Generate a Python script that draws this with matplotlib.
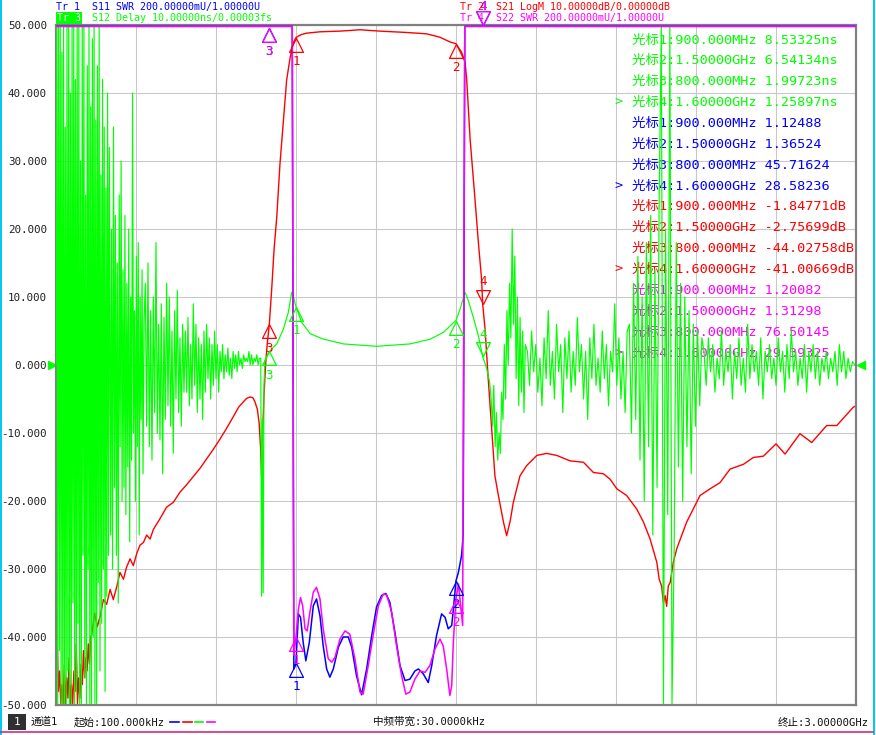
import numpy as np
import matplotlib
matplotlib.use("Agg")
import matplotlib.pyplot as plt
from matplotlib.lines import Line2D
from matplotlib.patches import Rectangle
from matplotlib.transforms import offset_copy

MONO = ["DejaVu Sans Mono", "Noto Sans CJK SC"]
BLUE, RED, GREEN, MAGENTA = "#0000ff", "#ff0000", "#00ff00", "#ff00ff"

F_START, F_STOP = 0.1, 3000.0  # MHz

# ---- S12 group delay (ns), in sweep segments ----
delay_l1 = [0, 58, -60, 60, -42, 57, -60, 46, -55, 60, -50, 35, -60, 58, -45, 60, -58, 40, -52, 60,
            -35, 50, -60, 42, -48, 55, -38, 60, -56, 30, -60, 52, -28, 60, -46, 25, -60, 44, -30, 60,
            -52, 38, -60, 48, -40, 55, -58, 36, -50, 44, -32, 50, -45, 28, -38, 42, -30, 35, -48, 26,
            -34, 40, -28, 32]
delay_l2 = [-25, 20, -30, 35, -18, 22, -28, 15, -35, 25, -12, 30, -20, 14, -18, 22, -22, 12, -15, 20,
            -26, 10, -14, 40, -10, 8, -20, 16, -12, 18, -25, 10, -8, 14, -16, 6]
delay_l3 = [12, -9, 15, -12, 8, -14, 10, -7, 18, -10, 6, -11, 9, -16, 7, -8, 12, -6, 10, -9,
            5, -13, 8, -5, 11, -7, 4, -9, 6, -4]
delay_l4 = [5, -4, 7, -6, 3, -5, 9, -3, 6, -7, 4, -5, 3, -8, 5, -4, 6, -2, 4, -5, 3, -3, 5, -2, 3, -4]
delay_l5 = [2, -1, 3, -2, 1.5, -1, 2.5, -1.5, 1, -2, 2, -0.5, 1.5, -1, 2, 0, 1, -0.5, 1.5, 0.5,
            1, 0.5, 2, 0, 1.5, 0, 1, 0.5, 1.5, 0, 1, 1]
delay_edge_f = [771, 774, 777, 780, 783]
delay_edge = [-34, -8, -33.5, -3, 0.5]
delay_pass_f = [790, 800, 828, 853, 871, 884, 892, 900, 921, 953, 1003, 1078, 1203, 1328, 1403,
                1453, 1490, 1500, 1515, 1534, 1546, 1565, 1584, 1600, 1615, 1626]
delay_pass = [1.2, 1.99723, 3.1, 5.3, 7.7, 10.7, 9.8, 8.53325, 6.3, 4.6, 3.8, 3.1, 2.75, 3.1, 3.8,
              4.8, 6.2, 6.54134, 8.2, 10.7, 9.5, 7.0, 4.3, 1.25897, -0.5, -2.5]
delay_r1 = [-5, -9, -3, -12, -7, -14, -10, -13, -4, -8, 3, -5, 8, 0, 12, 4, 20, 6, 16, -2,
            10, -6, 7, -4, 5, -7, 3]
delay_r2 = [2, -3, 5, -1, 3, -4, 1, -6, 4, -2, 8, -3, 2, -5, 6, -1, 3, -7, 4, -2,
            5, -4, 2, -3, 7, -1, 3, -5, 2, -8, 4, -2, 6, -3, 1, -4, 5, -2, 3, -6,
            2, -1, 9, -3, 4, -5, 2, -7, 5]
delay_r3 = [6, -10, 12, -8, 16, -14, 10, -20, 18, -12, 22, -25, 14, -18, 25, 60, -60, 20, -22, 60,
            -60, -28, 18, -15, 12, -20, 10, -12, 8, -16, 6, -9, 5, -6, 4]
delay_r4 = [2, -3, 4, -1, 3, -4, 1, -2, 5, -3, 2, -1, 3, -5, 2, -2, 4, -3, 1, -4,
            6, -2, 3, -1, 2, -3, 4, -5, 2, -1, 3, -2, 1, -3, 4, -1, 2, -4, 3, -2,
            5, -1, 2, -3, 1, -2, 3, -4, 2, -1, 3, -2, 2, -3, 1, -1, 2, -2, 1, -1,
            2, -3, 3, -1, 2, -2, 1, -1, 0.5, 0]

# ---- S21 LogM (dB) ----
s21_low = [-72, -90, -98, -95, -102, -97, -100, -94, -101, -96, -99, -93, -100, -97, -102,
           -95, -98, -91, -100, -96, -99, -94, -97, -92, -96, -93, -95, -91, -94, -90]
s21_f = [134, 145, 155, 165, 178, 190, 203, 215, 228, 240, 253, 265, 278, 290, 303, 315, 328, 340,
         353, 365, 390, 415, 440, 465, 490, 515, 540, 565, 590, 615, 640, 665, 685, 703, 715, 728,
         738, 746, 755, 762, 767, 771, 775, 780, 786, 792, 800, 809, 818, 828, 840, 853, 865, 878,
         890, 900, 920, 940, 990, 1065, 1140, 1215, 1315, 1390, 1440, 1478, 1500, 1521, 1534, 1540,
         1546, 1553, 1570, 1584, 1596, 1600, 1609, 1621, 1634, 1646, 1659, 1678, 1690, 1703, 1715,
         1740, 1765, 1803, 1840, 1878, 1928, 1978, 2015, 2053, 2078, 2103, 2140, 2178, 2203, 2228,
         2253, 2262, 2271, 2278, 2284, 2290, 2296, 2303, 2315, 2328, 2365, 2415, 2453, 2490, 2528,
         2578, 2615, 2653, 2700, 2734, 2790, 2834, 2890, 2928, 2990, 3000]
s21_db = [-89.7, -86.5, -88.5, -87, -84.5, -85.2, -83, -84.5, -82.6, -80.5, -81.5, -79.7, -78.5,
          -79.5, -77.7, -76.5, -76.1, -75, -75.6, -74.2, -72.6, -70.9, -70.2, -68.7, -67.6, -66.4,
          -65.2, -63.8, -62.4, -60.9, -59.3, -57.6, -56.2, -55.4, -54.9, -54.7, -54.8, -55.4, -56.5,
          -58.6, -62, -66.4, -60, -54.5, -50, -47, -44.02758, -38.8, -32.9, -28.2, -20.4, -13.9,
          -8.1, -4.8, -2.6, -1.84771, -1.4, -1.2, -1.0, -0.9, -0.7, -0.9, -1.1, -1.3, -1.8, -2.5,
          -2.75699, -4.0, -5.5, -7.9, -11.9, -16.8, -25, -32, -37.4, -41.00669, -44.7, -52.1, -59.4,
          -66.3, -69.2, -73.1, -75.1, -73, -70.2, -66.3, -64.8, -63.3, -63, -63.3, -64.1, -64.3,
          -65.8, -66, -66.8, -68.2, -69.2, -71.2, -73.1, -75.6, -79, -81.5, -82.5, -85, -83.9,
          -85.5, -82.5, -82, -79, -77, -73.1, -69.2, -68.2, -67.3, -65.3, -64.6, -63.6, -63.4,
          -61.6, -63.1, -60.1, -61.4, -58.9, -58.9, -56.2, -56]

# ---- S11 / S22 SWR ----
s11_f = [0.1, 886, 892, 900, 909, 917, 927, 937, 950, 965, 977, 990, 1002, 1015, 1027, 1040, 1059,
         1077, 1096, 1109, 1127, 1146, 1165, 1184, 1202, 1221, 1237, 1252, 1271, 1290, 1309, 1327,
         1346, 1359, 1377, 1396, 1409, 1427, 1446, 1459, 1471, 1484, 1490, 1500, 1509, 1521, 1527,
         1533, 3000]
s11_swr = [4.0, 4.0, 1.106, 1.12488, 1.268, 1.258, 1.184, 1.130, 1.184, 1.292, 1.312, 1.262, 1.174,
           1.106, 1.082, 1.106, 1.170, 1.200, 1.200, 1.170, 1.086, 1.030, 1.106, 1.204, 1.288,
           1.322, 1.328, 1.302, 1.214, 1.116, 1.072, 1.076, 1.100, 1.106, 1.092, 1.066, 1.116,
           1.204, 1.268, 1.258, 1.224, 1.234, 1.28, 1.36524, 1.39, 1.44, 1.5, 4.0, 4.0]
s22_f = [0.1, 886, 892, 900, 909, 917, 925, 934, 942, 952, 965, 977, 990, 1002, 1021, 1034, 1046,
         1065, 1084, 1102, 1121, 1140, 1152, 1171, 1190, 1209, 1227, 1240, 1259, 1277, 1296, 1312,
         1327, 1346, 1365, 1384, 1402, 1421, 1440, 1452, 1465, 1477, 1484, 1490, 1500, 1509, 1515,
         1525, 1533, 3000]
s22_swr = [4.0, 4.0, 1.146, 1.20082, 1.282, 1.316, 1.292, 1.224, 1.218, 1.272, 1.332, 1.346, 1.312,
           1.224, 1.136, 1.126, 1.140, 1.194, 1.218, 1.208, 1.136, 1.038, 1.032, 1.116, 1.208,
           1.292, 1.326, 1.324, 1.272, 1.174, 1.086, 1.032, 1.038, 1.076, 1.100, 1.096, 1.116,
           1.164, 1.194, 1.174, 1.106, 1.028, 1.058, 1.184, 1.31298, 1.356, 1.312, 1.234, 4.0, 4.0]

# ---- markers ----
mk_freq = [900, 1500, 800, 1600]
mk_freq_text = ["900.000MHz", "1.50000GHz", "800.000MHz", "1.60000GHz"]
mk_delay = [8.53325, 6.54134, 1.99723, 1.25897]
mk_s11 = [1.12488, 1.36524, 45.71624, 28.58236]
mk_s21 = [-1.84771, -2.75699, -44.02758, -41.00669]
mk_s22 = [1.20082, 1.31298, 76.50145, 29.39325]


def ns_grid(v):
    return np.asarray(v, float)                      # 10 ns/div, ref 0 at centre


def db_grid(v):
    return np.asarray(v, float) + 50.0               # 10 dB/div, ref 0 dB at top line


def swr_grid(v):
    return (np.asarray(v, float) - 1.0) * 50.0 - 50  # 200 mU/div, ref 1 U at bottom line


def clamp(g):
    return np.clip(g, -49.8, 49.8)


green_f = np.concatenate([np.linspace(F_START, 200, len(delay_l1)),
                          np.linspace(205, 330, len(delay_l2)),
                          np.linspace(335, 480, len(delay_l3)),
                          np.linspace(485, 610, len(delay_l4)),
                          np.linspace(615, 768, len(delay_l5)),
                          delay_edge_f, delay_pass_f,
                          np.linspace(1632, 1760, len(delay_r1)),
                          np.linspace(1768, 2142, len(delay_r2)),
                          np.linspace(2150, 2422, len(delay_r3)),
                          np.linspace(2430, 2995, len(delay_r4))])
green_v = np.concatenate([delay_l1, delay_l2, delay_l3, delay_l4, delay_l5, delay_edge,
                          delay_pass, delay_r1, delay_r2, delay_r3, delay_r4])
red_f = np.concatenate([np.linspace(F_START, 130, len(s21_low)), s21_f])
red_v = np.concatenate([s21_low, s21_db])

W, H = 876, 735
fig = plt.figure(figsize=(W / 100, H / 100), dpi=100)
fig.patch.set_facecolor("white")
ax = fig.add_axes([56 / W, 30 / H, 800 / W, 680 / H])
ax.set_xlim(F_START, F_STOP)
ax.set_ylim(-50, 50)
ax.set_xticks(np.linspace(F_START, F_STOP, 11))
ax.set_xticklabels([])
yt = np.arange(-50, 51, 10)
ax.set_yticks(yt)
ax.set_yticklabels([f"{v:.3f}" for v in yt], family=MONO, fontsize=7.8, color="#202020")
ax.tick_params(length=0, pad=6.5)
ax.grid(color="#c8c8c8", lw=0.75)
ax.set_axisbelow(True)
for s in ax.spines.values():
    s.set_color("#808080")
    s.set_linewidth(1.6)

ax.plot(red_f, clamp(db_grid(red_v)), color=RED, lw=1.0, zorder=2)
ax.plot(green_f, clamp(ns_grid(green_v)), color=GREEN, lw=0.85, zorder=3)
ax.plot(s11_f, clamp(swr_grid(s11_swr)), color=BLUE, lw=1.1, zorder=4)
ax.plot(s22_f, clamp(swr_grid(s22_swr)), color=MAGENTA, lw=1.1, zorder=5)

# reference-level arrows of the delay trace
ax.plot([F_START], [0], marker=">", ms=6, color=GREEN, clip_on=False,
        transform=offset_copy(ax.transData, fig=fig, x=-4, y=0, units="dots"))
ax.plot([F_STOP], [0], marker="<", ms=6, color=GREEN, clip_on=False,
        transform=offset_copy(ax.transData, fig=fig, x=5, y=0, units="dots"))

UP = [(0, 0), (-0.5, -1), (0.5, -1), (0, 0)]
DOWN = [(0, 0), (-0.5, 1), (0.5, 1), (0, 0)]


def draw_markers(values, to_grid, color, z):
    for i, (f, v) in enumerate(zip(mk_freq, values)):
        g = float(to_grid(v))
        active = i == 3
        if active:
            dy = 22 if g <= 50 else 18
            g = min(g, 50.0)
            mk = DOWN
        else:
            g = min(g, 49.6)
            mk, dy = UP, -24
        ax.plot([f], [g], ls="none", marker=mk, ms=20, mfc="none", mec=color, mew=0.9,
                clip_on=False, zorder=z)
        ax.annotate(str(i + 1), (f, g), xytext=(0, dy * 0.72), textcoords="offset points",
                    ha="center", va="center", color=color, fontsize=9, family=MONO,
                    annotation_clip=False, zorder=z)


draw_markers(mk_s11, swr_grid, BLUE, 6)
draw_markers(mk_s21, db_grid, RED, 6)
draw_markers(mk_delay, ns_grid, GREEN, 6)
draw_markers(mk_s22, swr_grid, MAGENTA, 7)


def fx(x):
    return x / W


def fy(y):
    return 1 - y / H


# marker readout table (traces are drawn over it)
table = [(mk_delay, "ns", GREEN), (mk_s11, "", BLUE), (mk_s21, "dB", RED), (mk_s22, "", MAGENTA)]
k = 0
for vals, unit, col in table:
    for i, v in enumerate(vals):
        y = 40 + k * 20.87
        ax.text(fx(632), fy(y), f"光标{i + 1}:{mk_freq_text[i]} {v:.5f}{unit}",
                transform=fig.transFigure, color=col, fontsize=9.7, family=MONO,
                va="center", ha="left", zorder=1)
        if i == 3:
            ax.text(fx(614), fy(y), ">", transform=fig.transFigure, color=col,
                    fontsize=9.7, family=MONO, va="center", ha="left", zorder=1)
        k += 1

# trace headers
hdr = dict(fontsize=7.2, family=MONO, va="center", ha="left")
fig.text(fx(56), fy(7), "Tr 1", color=BLUE, **hdr)
fig.text(fx(92), fy(7), "S11 SWR 200.00000mU/1.00000U", color=BLUE, **hdr)
fig.text(fx(57), fy(18), "Tr 3", color="white",
         bbox=dict(facecolor=GREEN, edgecolor="none", pad=0.6), **hdr)
fig.text(fx(92), fy(18), "S12 Delay 10.00000ns/0.00003fs", color=GREEN, **hdr)
fig.text(fx(460), fy(7), "Tr 2", color=RED, **hdr)
fig.text(fx(496), fy(7), "S21 LogM 10.00000dB/0.00000dB", color=RED, **hdr)
fig.text(fx(460), fy(18), "Tr 4", color=MAGENTA, **hdr)
fig.text(fx(496), fy(18), "S22 SWR 200.00000mU/1.00000U", color=MAGENTA, **hdr)

# status bar
bar = dict(fontsize=7.6, family=MONO, va="center", ha="left", color="#101010")
fig.patches.append(Rectangle((fx(8), fy(730)), 18 / W, 16 / H, transform=fig.transFigure,
                             facecolor="#303030", edgecolor="none"))
fig.text(fx(17), fy(722), "1", color="white", fontsize=8, family=MONO, va="center", ha="center")
fig.text(fx(31), fy(722), "通道1", **bar)
fig.text(fx(74), fy(722), "起始:100.000kHz", **bar)
fig.text(fx(373), fy(722), "中频带宽:30.0000kHz", **bar)
fig.text(fx(778), fy(722), "终止:3.00000GHz", **bar)
for (x0, x1), col in zip([(170, 179), (183, 192), (195, 203), (207, 215)],
                         [BLUE, RED, GREEN, MAGENTA]):
    fig.add_artist(Line2D([fx(x0), fx(x1)], [fy(722), fy(722)], color=col, lw=1.2,
                          transform=fig.transFigure))

# window frame
fig.add_artist(Line2D([fx(0.8), fx(0.8)], [0, 1], color="#00c8f0", lw=1.4, transform=fig.transFigure))
fig.add_artist(Line2D([fx(873.5), fx(873.5)], [0, 1], color="#00c8f0", lw=1.4, transform=fig.transFigure))
fig.add_artist(Line2D([0, fx(873)], [fy(732), fy(732)], color="#d0307f", lw=1.2, transform=fig.transFigure))

fig.savefig("out.png", dpi=100, facecolor="white")
